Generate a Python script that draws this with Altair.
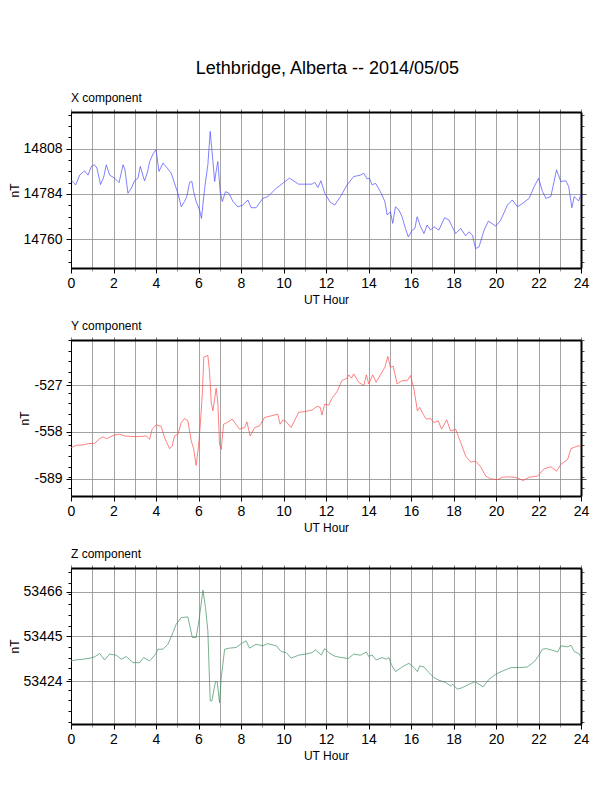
import altair as alt
import pandas as pd

main_title = "Lethbridge, Alberta -- 2014/05/05"
hours = list(range(25))

# (UT hour, nT)
x_comp = [
    (0, 14791.3), (0.22, 14788.8), (0.41, 14794.0), (0.64, 14796.3), (0.8, 14794.0),
    (0.96, 14798.6), (1.11, 14799.5), (1.22, 14797.7), (1.39, 14789.0), (1.54, 14793.0),
    (1.66, 14799.5), (1.82, 14794.0), (2.05, 14792.4), (2.26, 14790.0), (2.45, 14799.5),
    (2.54, 14796.8), (2.68, 14784.4), (2.84, 14787.0), (2.99, 14791.0), (3.15, 14792.4),
    (3.26, 14798.6), (3.46, 14791.0), (3.6, 14795.6), (3.7, 14801.2), (3.86, 14805.2),
    (4.0, 14807.5), (4.14, 14796.0), (4.33, 14800.4), (4.56, 14797.3), (4.72, 14795.0),
    (4.87, 14789.7), (5.03, 14784.4), (5.19, 14777.2), (5.34, 14780.0), (5.45, 14782.6),
    (5.58, 14790.2), (5.69, 14790.6), (5.77, 14785.2), (5.89, 14780.0), (6.05, 14775.5),
    (6.14, 14771.0), (6.29, 14787.0), (6.44, 14799.5), (6.55, 14817.2), (6.68, 14801.2),
    (6.76, 14790.6), (6.83, 14796.0), (6.91, 14801.2), (7.02, 14785.2), (7.12, 14780.0),
    (7.27, 14785.2), (7.43, 14784.4), (7.62, 14780.0), (7.85, 14777.2), (8.09, 14778.1),
    (8.32, 14780.8), (8.48, 14776.7), (8.71, 14776.7), (9.03, 14781.7), (9.26, 14782.6),
    (9.66, 14787.0), (9.97, 14789.7), (10.28, 14792.4), (10.71, 14789.2), (11.34, 14789.2),
    (11.47, 14790.2), (11.62, 14787.4), (11.76, 14791.0), (11.94, 14784.4), (12.2, 14779.6),
    (12.41, 14778.1), (12.68, 14782.6), (12.99, 14788.8), (13.3, 14793.2), (13.62, 14794.0),
    (13.78, 14795.0), (13.93, 14792.0), (14.04, 14792.4), (14.17, 14788.8), (14.33, 14789.7),
    (14.56, 14785.2), (14.77, 14780.0), (14.88, 14772.8), (15.03, 14774.6), (15.14, 14768.4),
    (15.27, 14777.2), (15.43, 14775.5), (15.58, 14771.9), (15.74, 14765.7), (15.87, 14761.2),
    (16.06, 14764.8), (16.18, 14765.7), (16.29, 14771.9), (16.45, 14766.6), (16.61, 14763.0),
    (16.76, 14767.5), (16.92, 14764.8), (17.08, 14766.6), (17.31, 14764.8), (17.58, 14771.4),
    (17.79, 14770.1), (17.94, 14766.6), (18.1, 14763.0), (18.34, 14765.7), (18.57, 14761.8),
    (18.73, 14763.9), (18.89, 14762.1), (19.04, 14755.0), (19.2, 14755.9), (19.44, 14764.8),
    (19.64, 14769.6), (19.99, 14766.9), (20.22, 14770.1), (20.54, 14778.1), (20.77, 14780.8),
    (21.01, 14777.2), (21.25, 14779.0), (21.56, 14781.7), (21.8, 14787.9), (22.0, 14792.4),
    (22.19, 14785.2), (22.35, 14781.7), (22.58, 14782.6), (22.85, 14796.8), (23.05, 14790.6),
    (23.29, 14791.0), (23.42, 14787.9), (23.57, 14776.7), (23.68, 14782.6), (23.89, 14780.3),
    (24.0, 14783.8),
]

y_comp = [
    (0, -568.5), (0.25, -566.9), (0.56, -566.7), (0.8, -565.8), (1.11, -565.6),
    (1.35, -562.5), (1.5, -561.3), (1.66, -562.5), (2.05, -560.0), (2.29, -559.6),
    (2.52, -560.7), (2.92, -561.1), (3.23, -561.1), (3.54, -560.7), (3.7, -562.9),
    (3.82, -556.2), (4.01, -553.3), (4.25, -554.4), (4.4, -561.8), (4.64, -569.1),
    (4.76, -567.4), (4.87, -560.7), (5.03, -559.6), (5.19, -551.8), (5.34, -549.1),
    (5.5, -550.6), (5.66, -564.0), (5.77, -569.1), (5.89, -580.3), (6.0, -567.4),
    (6.08, -554.0), (6.18, -532.8), (6.25, -508.3), (6.44, -507.2), (6.52, -518.3),
    (6.6, -538.4), (6.68, -544.0), (6.76, -536.1), (6.83, -529.0), (6.91, -538.4),
    (6.99, -566.2), (7.07, -569.6), (7.18, -552.9), (7.34, -551.8), (7.59, -549.5),
    (7.93, -556.2), (8.17, -555.1), (8.28, -551.3), (8.43, -560.7), (8.64, -555.1),
    (8.87, -554.0), (9.11, -548.4), (9.42, -547.3), (9.73, -546.2), (9.84, -552.9),
    (9.97, -550.0), (10.13, -551.3), (10.36, -555.1), (10.71, -545.0), (11.03, -544.4),
    (11.34, -543.5), (11.58, -541.0), (11.73, -541.7), (11.81, -546.8), (11.94, -539.5),
    (12.13, -540.2), (12.28, -535.7), (12.52, -531.2), (12.75, -523.9), (12.99, -522.3),
    (13.07, -520.1), (13.2, -522.3), (13.3, -519.4), (13.54, -525.0), (13.78, -527.2),
    (13.9, -520.1), (14.01, -526.1), (14.2, -520.1), (14.36, -525.0), (14.56, -520.1),
    (14.77, -515.0), (14.91, -507.8), (15.03, -515.0), (15.16, -514.3), (15.35, -526.1),
    (15.58, -523.9), (15.82, -523.9), (15.98, -520.5), (16.14, -529.5), (16.3, -544.0),
    (16.41, -541.7), (16.57, -546.2), (16.72, -549.5), (16.92, -549.1), (17.08, -551.8),
    (17.28, -550.6), (17.44, -556.2), (17.68, -550.0), (17.86, -557.3), (18.1, -556.2),
    (18.34, -565.1), (18.57, -574.0), (18.81, -578.1), (19.04, -577.4), (19.28, -581.2),
    (19.52, -587.4), (19.75, -589.2), (20.07, -589.7), (20.3, -588.1), (20.62, -587.9),
    (20.93, -588.3), (21.28, -590.3), (21.56, -588.1), (21.95, -587.4), (22.27, -582.5),
    (22.58, -581.2), (22.85, -584.1), (23.05, -579.6), (23.37, -576.3), (23.53, -569.1),
    (23.84, -567.4), (24.0, -567.4),
]

z_comp = [
    (0, 53433.5), (0.25, 53434.0), (0.56, 53434.3), (0.88, 53434.8), (1.11, 53435.4),
    (1.35, 53437.0), (1.58, 53434.0), (1.82, 53436.7), (2.13, 53436.2), (2.37, 53434.3),
    (2.6, 53435.6), (2.92, 53432.7), (3.23, 53432.7), (3.42, 53435.1), (3.7, 53433.5),
    (3.98, 53436.7), (4.09, 53439.0), (4.33, 53439.0), (4.56, 53441.3), (4.8, 53446.8),
    (4.95, 53450.7), (5.19, 53453.8), (5.5, 53454.1), (5.71, 53444.5), (5.89, 53444.5),
    (6.02, 53452.3), (6.21, 53466.6), (6.33, 53458.5), (6.44, 53447.6), (6.55, 53414.8),
    (6.63, 53414.8), (6.8, 53423.8), (6.88, 53423.8), (6.99, 53414.0), (7.07, 53425.7),
    (7.23, 53439.0), (7.46, 53439.5), (7.77, 53439.8), (8.01, 53441.6), (8.24, 53442.9),
    (8.4, 53439.5), (8.71, 53441.3), (9.03, 53440.6), (9.26, 53441.6), (9.66, 53440.6),
    (9.89, 53437.9), (10.13, 53437.4), (10.36, 53434.8), (10.71, 53436.2), (11.03, 53436.7),
    (11.34, 53437.4), (11.5, 53438.7), (11.78, 53436.3), (11.94, 53439.3), (12.13, 53437.4),
    (12.44, 53435.6), (12.75, 53435.1), (13.04, 53434.6), (13.3, 53436.7), (13.62, 53436.2),
    (13.9, 53437.7), (14.01, 53435.6), (14.17, 53436.3), (14.36, 53434.0), (14.64, 53435.1),
    (14.83, 53434.3), (14.96, 53435.1), (15.08, 53431.7), (15.27, 53428.5), (15.58, 53430.7),
    (15.9, 53432.4), (16.14, 53430.4), (16.3, 53428.5), (16.41, 53431.2), (16.61, 53430.7),
    (16.84, 53428.1), (17.08, 53425.7), (17.31, 53424.5), (17.63, 53423.4), (17.86, 53421.8),
    (17.97, 53422.6), (18.18, 53420.3), (18.42, 53421.0), (18.73, 53422.6), (19.01, 53423.8),
    (19.2, 53422.6), (19.39, 53421.4), (19.67, 53424.9), (19.99, 53427.3), (20.31, 53428.8),
    (20.7, 53430.4), (21.09, 53430.4), (21.48, 53430.7), (21.8, 53433.2), (22.0, 53435.9),
    (22.19, 53439.0), (22.35, 53439.3), (22.66, 53438.5), (22.9, 53437.7), (23.05, 53440.6),
    (23.37, 53440.1), (23.53, 53440.9), (23.68, 53437.9), (23.89, 53437.0), (24.0, 53435.4),
]

x_domain = [14744.7, 14827.5]
y_domain = [-600.6, -496.9]
z_domain = [53404.0, 53477.0]

x_major = [14760, 14784, 14808]
y_major = [-589, -558, -527]
z_major = [53424, 53445, 53466]

x_minor = [14748, 14754, 14760, 14766, 14772, 14778, 14784, 14790, 14796, 14802,
           14808, 14814, 14820, 14826]
y_minor = [-595, -588, -581, -574, -567, -560, -553, -546, -539, -532, -525, -518,
           -511, -504, -497]
z_minor = [53405, 53410, 53415, 53420, 53425, 53430, 53435, 53440, 53445, 53450,
           53455, 53460, 53465, 53470, 53475]

FONT = "Liberation Sans"
W, H = 510, 156


def panel(rows, name, color, domain, major, minor):
    df = pd.DataFrame(rows, columns=["hour", "nt"])
    ticks = sorted(set(major + minor))
    is_major = "indexof(%s, datum.value) >= 0" % str(major)
    even = "datum.value % 2 === 0"
    base = alt.Chart(df)
    xs = alt.Scale(domain=[0, 24], nice=False, zero=False)
    ys = alt.Scale(domain=domain, nice=False, zero=False)

    line = base.mark_line(color=color, strokeWidth=0.7).encode(
        x=alt.X("hour:Q", scale=xs, axis=alt.Axis(
            values=hours, title="UT Hour", titleFontSize=12, titleFontWeight="normal",
            titlePadding=4, labelExpr="%s ? datum.label : ''" % even,
            labelFontSize=14, labelPadding=3, labelFlush=False,
            grid=True, gridColor="#8c8c8c", gridWidth=0.8,
            domainColor="black", domainWidth=2,
            tickColor={"condition": {"test": even, "value": "black"}, "value": "#999999"},
            tickSize={"condition": {"test": even, "value": 5}, "value": 3},
        )),
        y=alt.Y("nt:Q", scale=ys, axis=alt.Axis(
            values=ticks, title="nT", titleFontSize=12, titleFontWeight="normal",
            titlePadding=2, labelExpr="%s ? '' + datum.value : ''" % is_major,
            labelFontSize=14, labelPadding=4, labelFlush=False,
            grid=True, gridColor="#8c8c8c", gridWidth=0.8,
            gridOpacity={"condition": {"test": is_major, "value": 1}, "value": 0},
            domainColor="black", domainWidth=1, tickColor="black",
            tickSize={"condition": {"test": is_major, "value": 5}, "value": 3},
        )),
    )

    frame = base.mark_line(opacity=0).encode(
        x=alt.X("hour:Q", scale=xs, axis=alt.Axis(
            orient="top", values=hours, title="", labels=False, grid=False,
            domainColor="black", domainWidth=2, tickColor="#777777", tickSize=3,
        )),
        y=alt.Y("nt:Q", scale=ys, axis=alt.Axis(
            orient="right", values=ticks, title="", labels=False, grid=False,
            domainColor="black", domainWidth=2, tickColor="#555555",
            tickSize={"condition": {"test": is_major, "value": 5}, "value": 3},
        )),
    )

    return alt.layer(line, frame).resolve_axis(x="independent", y="independent").properties(
        width=W, height=H,
        title=alt.TitleParams(name, anchor="start", frame="group", fontSize=12,
                              fontWeight="normal", offset=4, font=FONT),
    )


chart = alt.vconcat(
    panel(x_comp, "X component", "#4a4aff", x_domain, x_major, x_minor),
    panel(y_comp, "Y component", "#ff4a4a", y_domain, y_major, y_minor),
    panel(z_comp, "Z component", "#3f8f62", z_domain, z_major, z_minor),
    spacing=13,
).properties(
    title=alt.TitleParams(main_title, fontSize=18, fontWeight="normal", font=FONT,
                          anchor="middle", offset=13, dx=29),
    padding={"left": -1, "top": 52, "right": 5, "bottom": 5},
).configure_view(
    strokeWidth=0
).configure_axis(
    labelFont=FONT, titleFont=FONT, labelColor="black", titleColor="black"
).configure(background="white")

chart.save("out.html", embed_options={"renderer": "svg", "actions": False})
